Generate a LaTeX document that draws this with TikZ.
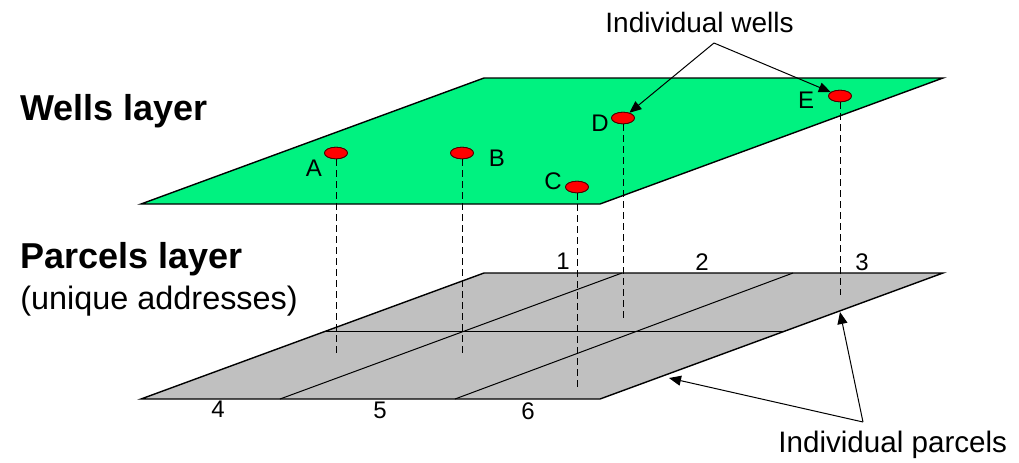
\documentclass[tikz,border=0pt]{standalone}
\usepackage{fontspec}
\setmainfont{Liberation Sans}
\usetikzlibrary{shapes.geometric, arrows.meta}

\definecolor{wellgreen}{RGB}{0,242,128}
\definecolor{parcelgray}{RGB}{192,192,192}
\definecolor{wellred}{RGB}{255,0,0}

\begin{document}
\begin{tikzpicture}[x=0.5pt, y=-0.5pt,
    plane/.style={draw=black, line width=0.7pt, line join=miter},
    grid/.style={draw=black, line width=0.5pt},
    well/.style={ellipse, draw=black!70!red, fill=wellred, line width=0.4pt,
        minimum width=11.5pt, minimum height=5.8pt, inner sep=0pt},
    pipe/.style={line width=0.5pt, dash pattern=on 3.5pt off 2pt},
    ptr/.style={-{Triangle[length=6pt, width=5pt]}, line width=0.5pt},
    tag/.style={font=\fontsize{12}{14}\selectfont, inner sep=0pt}]
    \useasboundingbox (0,0) rectangle (1019,462);

    %% Wells layer
    \coordinate (wNW) at (484,78);
    \coordinate (wNE) at (943,78);
    \coordinate (wSE) at (600,204);
    \coordinate (wSW) at (141,204);
    \filldraw[plane, fill=wellgreen] (wNW) -- (wNE) -- (wSE) -- (wSW) -- cycle;

    %% Parcels layer
    \coordinate (pNW) at (484,273);
    \coordinate (pNE) at (943,273);
    \coordinate (pSE) at (600,399);
    \coordinate (pSW) at (141,399);
    \filldraw[plane, fill=parcelgray] (pNW) -- (pNE) -- (pSE) -- (pSW) -- cycle;
    \draw[grid] (326,331) -- (785,331);
    \draw[grid] (280,399) -- (622,273);
    \draw[grid] (455,399) -- (793,273);

    %% Parcel numbers
    \node[tag] (n1) at (563,261) {1};
    \node[tag] (n2) at (702,262) {2};
    \node[tag] (n3) at (862,262) {3};
    \node[tag] (n4) at (218,409) {4};
    \node[tag] (n5) at (380,410) {5};
    \node[tag] (n6) at (528,411) {6};

    %% Wells and their drop lines
    \node[well] (wA) at (336,153) {};
    \node[well] (wB) at (462,153) {};
    \node[well] (wC) at (577,187) {};
    \node[well] (wD) at (623,118) {};
    \node[well] (wE) at (840,96) {};
    \coordinate (dA) at (336,354);
    \coordinate (dB) at (462,354);
    \coordinate (dC) at (577,388);
    \coordinate (dD) at (623,319);
    \coordinate (dE) at (840,295);
    \foreach \w in {A,B,C,D,E}
        \draw[pipe] (w\w.south) -- (d\w);
    \foreach \w in {A,B,C,D,E}
        \node[well] at (w\w) {};

    \node[tag] (lA) at (314,168) {A};
    \node[tag] (lB) at (497,158) {B};
    \node[tag] (lC) at (553,181) {C};
    \node[tag] (lD) at (600,123) {D};
    \node[tag] (lE) at (806,100) {E};

    %% Layer titles
    \node[font=\fontsize{18}{21}\selectfont\bfseries, anchor=base west, inner sep=0pt]
        (wtitle) at (20,120) {Wells layer};
    \node[font=\fontsize{18}{21}\selectfont\bfseries, anchor=base west, inner sep=0pt]
        (ptitle) at (20,268) {Parcels layer};
    \node[font=\fontsize{16.2}{19}\selectfont, anchor=base west, inner sep=0pt]
        (psub) at (20,309) {(unique addresses)};

    %% Callouts
    \node[font=\fontsize{14}{17}\selectfont, anchor=base west, inner sep=0pt]
        (iwells) at (605,32) {Individual wells};
    \coordinate (wj) at (714,43);
    \draw[ptr] (wj) -- (wD);
    \draw[ptr] (wj) -- (wE);

    \node[font=\fontsize{14.8}{17}\selectfont, anchor=base west, inner sep=0pt]
        (iparcels) at (778,452) {Individual parcels};
    \coordinate (pj) at (863,422);
    \coordinate (p3) at (840,312);
    \coordinate (p6) at (669,378);
    \draw[ptr] (pj) -- (p3);
    \draw[ptr] (pj) -- (p6);
\end{tikzpicture}
\end{document}
